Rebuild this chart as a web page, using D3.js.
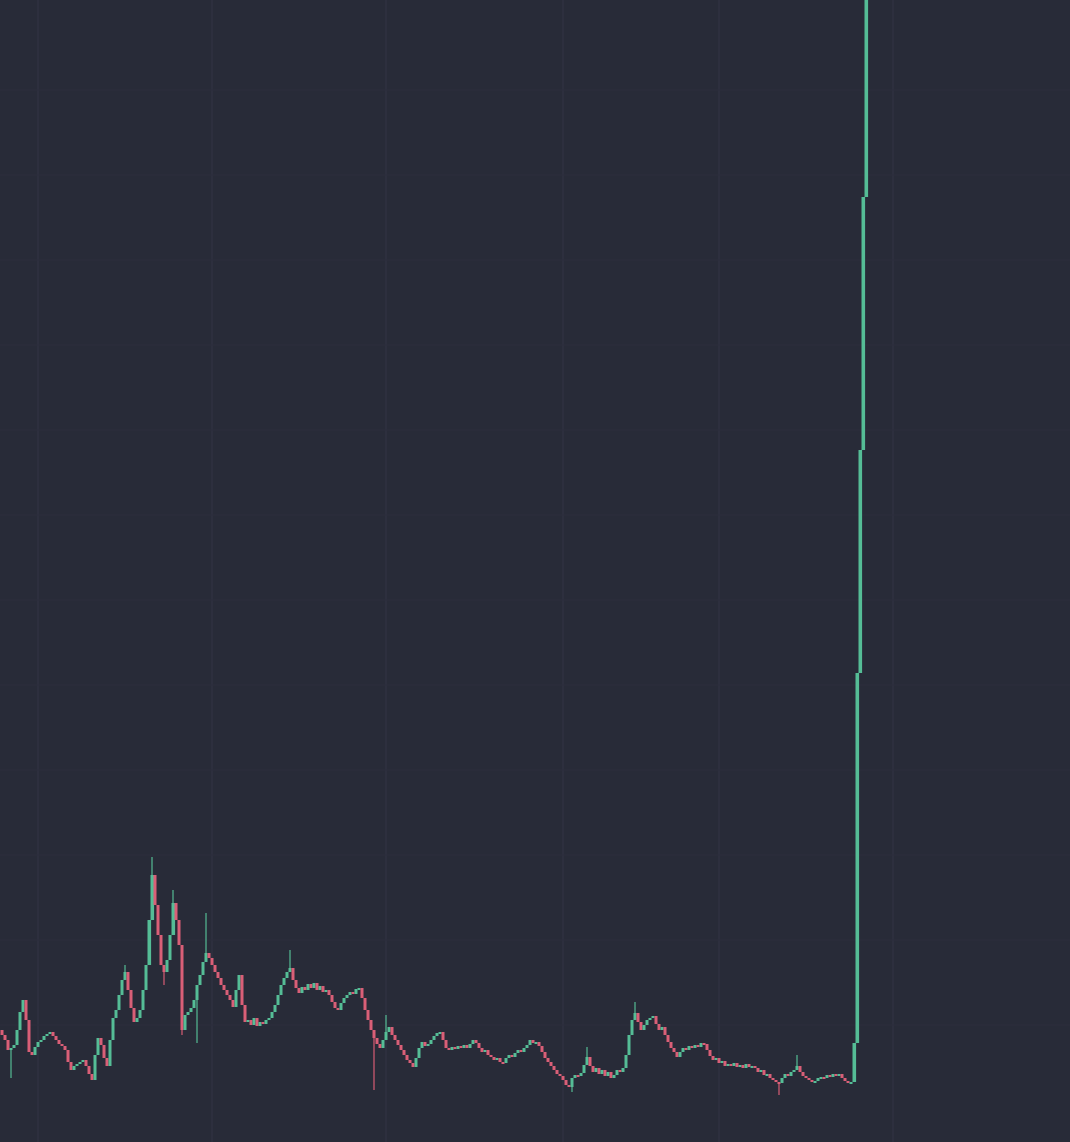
<!DOCTYPE html>
<html>
<head>
<meta charset="utf-8">
<script src="https://cdn.jsdelivr.net/npm/d3@7/dist/d3.min.js"></script>
<style>
  html, body { margin: 0; padding: 0; background: #282b38; overflow: hidden; }
  svg { display: block; }
</style>
</head>
<body>
<svg id="chart" width="1070" height="1142"></svg>
<script>
// ---- data (price units) ----
const firstOpen = 0.70;
const closes = [
  0.65,0.60,0.50,0.52,0.55,0.70,0.88,1.00,0.80,0.48,
  0.45,0.53,0.58,0.60,0.64,0.66,0.68,0.64,0.60,0.56,
  0.54,0.50,0.38,0.30,0.34,0.36,0.38,0.40,0.34,0.26,
  0.20,0.45,0.62,0.55,0.42,0.34,0.60,0.82,0.90,1.05,
  1.20,1.28,1.10,0.92,0.78,0.82,0.90,1.10,1.35,1.80,
  2.25,1.95,1.65,1.35,1.28,1.40,1.65,1.97,1.80,1.55,
  0.70,0.85,0.88,0.92,1.00,1.15,1.25,1.38,1.47,1.42,
  1.35,1.28,1.22,1.15,1.10,1.05,1.00,0.93,1.10,1.25,
  0.95,0.78,0.80,0.75,0.82,0.74,0.78,0.76,0.80,0.82,
  0.88,0.95,1.05,1.15,1.22,1.28,1.32,1.20,1.12,1.07,
  1.13,1.10,1.16,1.12,1.17,1.10,1.14,1.08,1.10,1.05,
  0.98,0.92,0.90,0.97,1.02,1.05,1.08,1.06,1.11,1.12,
  1.02,0.90,0.80,0.70,0.62,0.56,0.52,0.60,0.68,0.73,
  0.65,0.60,0.55,0.50,0.45,0.40,0.37,0.33,0.42,0.52,
  0.58,0.54,0.56,0.60,0.64,0.67,0.68,0.60,0.52,0.50,
  0.53,0.51,0.54,0.52,0.55,0.52,0.56,0.60,0.57,0.52,
  0.48,0.50,0.45,0.43,0.40,0.42,0.38,0.37,0.42,0.45,
  0.43,0.47,0.50,0.48,0.52,0.55,0.60,0.57,0.58,0.54,
  0.48,0.42,0.38,0.34,0.30,0.26,0.24,0.20,0.15,0.13,
  0.22,0.25,0.24,0.27,0.35,0.43,0.34,0.28,0.32,0.26,
  0.30,0.24,0.28,0.22,0.25,0.30,0.28,0.32,0.45,0.65,
  0.80,0.87,0.78,0.70,0.75,0.80,0.82,0.84,0.76,0.70,
  0.73,0.65,0.58,0.52,0.48,0.43,0.48,0.52,0.50,0.54,
  0.52,0.55,0.53,0.57,0.56,0.50,0.44,0.40,0.42,0.37,
  0.39,0.34,0.36,0.34,0.37,0.33,0.35,0.32,0.36,0.33,
  0.34,0.32,0.28,0.30,0.25,0.26,0.22,0.20,0.18,0.17,
  0.22,0.26,0.24,0.28,0.30,0.34,0.28,0.24,0.22,0.20,
  0.18,0.19,0.22,0.23,0.22,0.25,0.23,0.26,0.24,0.26,
  0.22,0.19,0.17,0.18,0.57,4.27,6.50,9.03,11.80
];
// candles with visible wicks beyond the body
const wickIdx  = [3, 41, 50, 54, 57, 60, 65, 68, 96, 124, 128, 190, 195, 211, 259, 265];
const wickHigh = [null,1.35,2.43,null,2.10,null,null,1.87,1.50,null,0.85,null,0.53,0.98,null,0.45];
const wickLow  = [0.22,null,null,1.15,null,0.65,0.57,null,null,0.10,null,0.08,null,null,0.05,null];
// faint grid positions
const gridIdx   = [12, 70, 128, 187, 239, 297];
const gridPrice = [10.1, 9.25, 8.4, 7.55, 6.7, 5.85, 5.0, 4.15, 3.3, 2.45, 1.6, 0.75];

// ---- build candles ----
const candles = closes.map((c, i) => {
  const o = i === 0 ? firstOpen : closes[i - 1];
  let h = Math.max(o, c), l = Math.min(o, c);
  const k = wickIdx.indexOf(i);
  if (k >= 0) {
    if (wickHigh[k] != null) h = Math.max(h, wickHigh[k]);
    if (wickLow[k] != null) l = Math.min(l, wickLow[k]);
  }
  return { i, o, c, h, l };
});

const W = 1070, H = 1142;
const svg = d3.select('#chart');
const defs = svg.append('defs');
defs.append('filter').attr('id', 'soft')
  .attr('x', '-20%').attr('y', '-20%').attr('width', '140%').attr('height', '140%')
  .append('feGaussianBlur').attr('stdDeviation', 0.55);

svg.append('rect').attr('width', W).attr('height', H).attr('fill', '#282b38');

const x = d3.scaleLinear().domain([0, closes.length - 1]).range([2, 866]);
const y = d3.scaleLinear().domain([0, 11]).range([1100, 0]);

// grid
const grid = svg.append('g');
grid.selectAll('line.v').data(gridIdx).join('line')
  .attr('x1', d => x(d)).attr('x2', d => x(d))
  .attr('y1', 0).attr('y2', H)
  .attr('stroke', '#2f3240').attr('stroke-width', 1.5);
grid.selectAll('line.h').data(gridPrice).join('line')
  .attr('x1', 0).attr('x2', W)
  .attr('y1', d => y(d)).attr('y2', d => y(d))
  .attr('stroke', '#2c2f3c').attr('stroke-width', 1);

const green = '#55bd96', red = '#d95e77';
const color = d => d.c >= d.o ? green : red;

const g = svg.append('g').attr('filter', 'url(#soft)');
const bw = 3;
g.selectAll('line.wick').data(candles).join('line')
  .attr('x1', d => x(d.i)).attr('x2', d => x(d.i))
  .attr('y1', d => y(d.h)).attr('y2', d => y(d.l))
  .attr('stroke', color).attr('stroke-width', 1.4).attr('opacity', 0.85);
g.selectAll('rect.body').data(candles).join('rect')
  .attr('x', d => x(d.i) - bw / 2)
  .attr('width', d => d.c - d.o > 0.3 ? 3.6 : bw)
  .attr('y', d => y(Math.max(d.o, d.c)))
  .attr('height', d => Math.max(2, Math.abs(y(d.o) - y(d.c))))
  .attr('fill', color);
</script>
</body>
</html>
